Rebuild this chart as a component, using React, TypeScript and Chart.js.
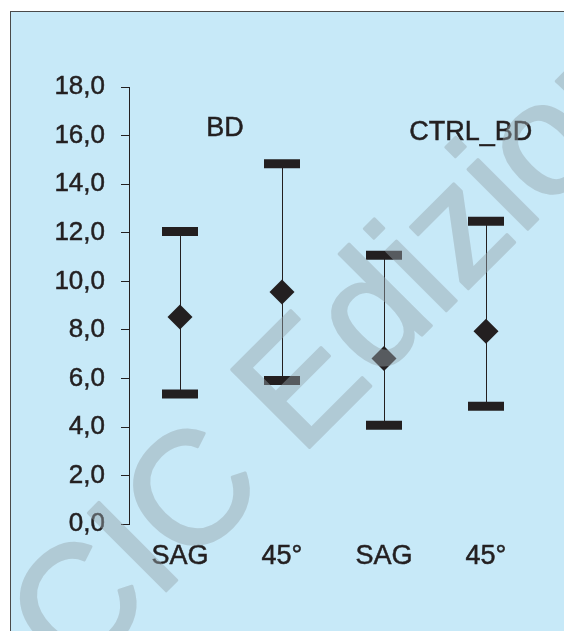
import React, { useEffect, useRef } from "react";
import { Chart, registerables } from "chart.js";

Chart.register(...registerables);

// ---- data ----
const categories = ["SAG", "45°", "SAG", "45°"];
const meanValues = [8.53, 9.56, 6.82, 7.95];
const upperValues = [12.05, 14.84, 11.07, 12.47];
const lowerValues = [5.36, 5.92, 4.08, 4.86];
const yMin = 0;
const yMax = 18;
const yStep = 2;
const groupLabels = ["BD", "CTRL_BD"];
const groupLabelIndex = [0.44, 2.85];
const groupLabelValue = [16.29, 16.13];
const watermarkText = "CIC Edizioni";

const INK = "#231f20";
const FONT = "'Liberation Sans', Arial, sans-serif";

const whiskerPlugin = {
  id: "whiskers",
  beforeDatasetsDraw(chart: any) {
    const ctx = chart.ctx;
    const x = chart.scales.x;
    const y = chart.scales.y;
    ctx.save();
    ctx.strokeStyle = INK;
    ctx.lineWidth = 1;
    categories.forEach((_, i) => {
      const px = Math.round(x.getPixelForValue(i)) + 0.5;
      ctx.beginPath();
      ctx.moveTo(px, y.getPixelForValue(upperValues[i]));
      ctx.lineTo(px, y.getPixelForValue(lowerValues[i]));
      ctx.stroke();
    });
    ctx.restore();
  },
};

const groupLabelPlugin = {
  id: "groupLabels",
  afterDatasetsDraw(chart: any) {
    const ctx = chart.ctx;
    const x = chart.scales.x;
    const y = chart.scales.y;
    ctx.save();
    ctx.fillStyle = INK;
    ctx.strokeStyle = INK;
    ctx.lineWidth = 0.5;
    ctx.font = `27px ${FONT}`;
    ctx.textAlign = "center";
    ctx.textBaseline = "middle";
    groupLabels.forEach((t, i) => {
      const px = x.getPixelForValue(groupLabelIndex[i]);
      const py = y.getPixelForValue(groupLabelValue[i]);
      ctx.strokeText(t, px, py);
      ctx.fillText(t, px, py);
    });
    ctx.restore();
  },
};

const watermarkPlugin = {
  id: "watermark",
  afterDraw(chart: any) {
    const ctx = chart.ctx;
    const w = chart.width;
    const h = chart.height;
    const off = document.createElement("canvas");
    off.width = w;
    off.height = h;
    const o = off.getContext("2d")!;
    o.save();
    o.beginPath();
    o.rect(11, 12, w - 11, h - 12);
    o.clip();
    o.translate(74, 683);
    o.rotate(-Math.PI / 4);
    o.font = `160px ${FONT}`;
    o.textBaseline = "alphabetic";
    o.textAlign = "left";
    o.fillStyle = "rgb(150,165,172)";
    o.strokeStyle = "rgb(150,165,172)";
    o.lineWidth = 3;
    o.lineJoin = "round";
    o.fillText(watermarkText, 0, 0);
    o.strokeText(watermarkText, 0, 0);
    o.restore();
    ctx.save();
    ctx.globalAlpha = 0.45;
    ctx.drawImage(off, 0, 0);
    ctx.restore();
  },
};

export default function App() {
  const ref = useRef<HTMLCanvasElement | null>(null);

  useEffect(() => {
    if (!ref.current) return;
    const chart = new Chart(ref.current, {
      type: "line",
      data: {
        labels: categories,
        datasets: [
          {
            label: "upper",
            data: upperValues,
            showLine: false,
            pointStyle: "line",
            pointRadius: 18,
            pointBorderWidth: 9,
            pointBorderColor: INK,
            pointBackgroundColor: INK,
            pointHoverRadius: 18,
          },
          {
            label: "lower",
            data: lowerValues,
            showLine: false,
            pointStyle: "line",
            pointRadius: 18,
            pointBorderWidth: 9,
            pointBorderColor: INK,
            pointBackgroundColor: INK,
            pointHoverRadius: 18,
          },
          {
            label: "mean",
            data: meanValues,
            showLine: false,
            pointStyle: "rectRot",
            pointRadius: 12.5,
            pointBorderWidth: 0,
            pointBackgroundColor: INK,
            pointBorderColor: INK,
            pointHoverRadius: 12.5,
          },
        ],
      },
      options: {
        animation: false,
        responsive: false,
        devicePixelRatio: 1,
        events: [],
        layout: { padding: { left: 0, right: 27, top: 87, bottom: 0 } },
        plugins: {
          legend: { display: false },
          tooltip: { enabled: false },
          title: { display: false },
        },
        scales: {
          x: {
            type: "category",
            offset: true,
            grid: { display: false, drawTicks: false, tickLength: 0 },
            border: { display: false },
            ticks: {
              color: INK,
              font: { family: FONT, size: 27 },
              padding: 16.5,
              maxRotation: 0,
              autoSkip: false,
              textStrokeColor: INK,
              textStrokeWidth: 0.5,
            },
            afterFit(scale: any) {
              scale.height = 106.7;
            },
          },
          y: {
            min: yMin,
            max: yMax,
            grid: {
              display: true,
              drawOnChartArea: false,
              drawTicks: true,
              tickLength: 8,
              tickColor: INK,
              tickWidth: 1,
            },
            border: { display: true, color: INK, width: 1 },
            ticks: {
              stepSize: yStep,
              color: INK,
              font: { family: FONT, size: 26 },
              padding: 16,
              textStrokeColor: INK,
              textStrokeWidth: 0.5,
              callback: (v: any) => Number(v).toFixed(1).replace(".", ","),
            },
            afterFit(scale: any) {
              scale.width = 129;
            },
          },
        },
      },
      plugins: [whiskerPlugin, groupLabelPlugin, watermarkPlugin],
    } as any);
    return () => chart.destroy();
  }, []);

  return (
    <div style={{ position: "fixed", left: 0, top: 0, width: 564, height: 631, background: "#ffffff", overflow: "hidden" }}>
      <div
        style={{
          position: "absolute",
          left: 10,
          top: 11,
          right: 0,
          bottom: 0,
          background: "#c7e9f8",
          borderTop: "1px solid #4a4a4a",
          borderLeft: "1px solid #4a4a4a",
        }}
      />
      <canvas ref={ref} width={564} height={631} style={{ position: "absolute", left: 0, top: 0, width: 564, height: 631 }} />
    </div>
  );
}
